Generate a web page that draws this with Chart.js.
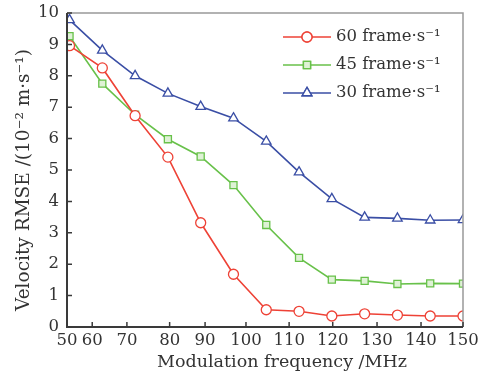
<!DOCTYPE html>
<html lang="en">
  <head>
    <meta charset="UTF-8" />
    <title>Velocity RMSE vs modulation frequency</title>
    <script src="https://cdn.jsdelivr.net/npm/chart.js"></script>
    <style>
      html, body { margin: 0; padding: 0; background: #fff; }
    </style>
  </head>
  <body>
    <canvas id="rmseChart" width="489" height="375"></canvas>

    <script>
      // measured modulation frequencies (MHz), one per point
      const freqs = [51, 64, 72, 79.5, 88.9, 97.1, 104.7, 112.3, 119.8, 127.2, 134.6, 142.1, 150];
      // velocity RMSE, 10^-2 m/s
      const rmse60 = [8.96, 8.25, 6.73, 5.41, 3.32, 1.68, 0.55, 0.5, 0.35, 0.42, 0.38, 0.35, 0.35];
      const rmse45 = [9.26, 7.75, 6.76, 5.98, 5.43, 4.52, 3.25, 2.2, 1.51, 1.47, 1.37, 1.39, 1.38];
      const rmse30 = [9.78, 8.81, 8.0, 7.44, 7.02, 6.65, 5.91, 4.93, 4.08, 3.49, 3.46, 3.4, 3.41];
      const xTickLabels = [50, 60, 70, 80, 90, 100, 110, 120, 130, 140, 150];
      const yTickLabels = [0, 1, 2, 3, 4, 5, 6, 7, 8, 9, 10];
      const seriesNames = ["60 frame·s⁻¹", "45 frame·s⁻¹", "30 frame·s⁻¹"];
      const xTitle = "Modulation frequency /MHz";
      const yTitle = "Velocity RMSE /(10⁻² m·s⁻¹)";

      const serif = "'DejaVu Serif', 'Liberation Serif', serif";
      const textColor = "#333";

      // the points sit evenly spaced in the original figure, so the x axis runs
      // on point index and the frequency ticks are placed between the points
      function freqToIndex(f) {
        for (let i = 0; i < freqs.length - 1; i++) {
          if (f <= freqs[i + 1]) {
            return i + (f - freqs[i]) / (freqs[i + 1] - freqs[i]);
          }
        }
        return freqs.length - 1;
      }

      function toPoints(values) {
        return values.map((v, i) => ({ x: i, y: v }));
      }

      // frame, inward tick marks, axis titles and the legend box
      const framePlugin = {
        id: "frame",
        afterDatasetsDraw(chart) {
          const { ctx, chartArea: a, scales } = chart;
          ctx.save();
          ctx.lineCap = "butt";

          ctx.strokeStyle = "#999";
          ctx.lineWidth = 1.5;
          ctx.beginPath();
          ctx.moveTo(a.left, a.top);
          ctx.lineTo(a.right, a.top);
          ctx.lineTo(a.right, a.bottom);
          ctx.stroke();

          ctx.strokeStyle = "#3a3a3a";
          ctx.lineWidth = 2;
          ctx.beginPath();
          ctx.moveTo(a.left, a.top);
          ctx.lineTo(a.left, a.bottom);
          ctx.lineTo(a.right, a.bottom);
          ctx.stroke();

          ctx.lineWidth = 1.5;
          ctx.beginPath();
          scales.x.ticks.forEach((t) => {
            const px = scales.x.getPixelForValue(t.value);
            ctx.moveTo(px, a.bottom);
            ctx.lineTo(px, a.bottom - 5);
          });
          scales.y.ticks.forEach((t) => {
            const py = scales.y.getPixelForValue(t.value);
            ctx.moveTo(a.left, py);
            ctx.lineTo(a.left + 5, py);
          });
          ctx.stroke();

          // axis titles
          ctx.fillStyle = textColor;
          ctx.textAlign = "center";
          ctx.textBaseline = "middle";
          ctx.font = "17.5px " + serif;
          ctx.fillText(xTitle, (a.left + a.right) / 2 + 17, a.bottom + 35);
          ctx.save();
          ctx.translate(24, (a.top + a.bottom) / 2 + 10);
          ctx.rotate(-Math.PI / 2);
          ctx.font = "18.5px " + serif;
          ctx.fillText(yTitle, 0, 0);
          ctx.restore();

          // legend
          const lineStart = a.right - 180;
          const lineEnd = a.right - 132;
          ctx.font = "16.5px " + serif;
          ctx.textAlign = "left";
          chart.data.datasets.forEach((ds, i) => {
            const y = a.top + 24 + i * 28;
            ctx.strokeStyle = ds.borderColor;
            ctx.lineWidth = ds.borderWidth;
            ctx.beginPath();
            ctx.moveTo(lineStart, y);
            ctx.lineTo(lineEnd, y);
            ctx.stroke();
            Chart.helpers.drawPoint(
              ctx,
              {
                pointStyle: ds.pointStyle,
                radius: ds.pointRadius,
                borderWidth: ds.pointBorderWidth,
                rotation: 0,
              },
              (lineStart + lineEnd) / 2,
              y
            );
            ctx.fillStyle = ds.pointBackgroundColor;
            ctx.strokeStyle = ds.borderColor;
            ctx.lineWidth = ds.pointBorderWidth;
            ctx.fill();
            ctx.stroke();
            ctx.fillStyle = textColor;
            ctx.fillText(ds.label, lineEnd + 5, y);
          });
          ctx.restore();
        },
      };

      function makeSeries(label, values, color, fill, style, radius) {
        return {
          label: label,
          data: toPoints(values),
          borderColor: color,
          backgroundColor: color,
          borderWidth: 1.6,
          pointStyle: style,
          pointRadius: radius,
          pointBorderWidth: 1.3,
          pointBackgroundColor: fill,
          pointBorderColor: color,
          tension: 0,
        };
      }

      new Chart(document.getElementById("rmseChart").getContext("2d"), {
        type: "line",
        data: {
          datasets: [
            makeSeries(seriesNames[0], rmse60, "#ee4236", "#fff", "circle", 5),
            makeSeries(seriesNames[1], rmse45, "#68c14a", "#dff2d6", "rect", 5),
            makeSeries(seriesNames[2], rmse30, "#3a4ea5", "#fff", "triangle", 5.5),
          ],
        },
        options: {
          responsive: false,
          animation: false,
          layout: { padding: { top: 13, right: 26, left: 0, bottom: 0 } },
          plugins: {
            legend: { display: false },
            tooltip: { enabled: false },
          },
          scales: {
            x: {
              type: "linear",
              min: freqToIndex(xTickLabels[0]),
              max: freqs.length - 1,
              grid: { display: false, drawTicks: false },
              border: { display: false },
              afterBuildTicks: (scale) => {
                scale.ticks = xTickLabels.map((v) => ({ value: freqToIndex(v) }));
              },
              afterFit: (scale) => {
                scale.height = 48;
              },
              ticks: {
                autoSkip: false,
                maxRotation: 0,
                padding: 4,
                color: textColor,
                font: { family: serif, size: 16.5 },
                callback: (value, index) => xTickLabels[index],
              },
            },
            y: {
              min: 0,
              max: 10,
              grid: { display: false, drawTicks: false },
              border: { display: false },
              afterBuildTicks: (scale) => {
                scale.ticks = yTickLabels.map((v) => ({ value: v }));
              },
              afterFit: (scale) => {
                scale.width = 67;
                scale.paddingTop = 0;
                scale.paddingBottom = 0;
              },
              ticks: {
                padding: 8,
                color: textColor,
                font: { family: serif, size: 16.5 },
              },
            },
          },
        },
        plugins: [framePlugin],
      });
    </script>
  </body>
</html>
